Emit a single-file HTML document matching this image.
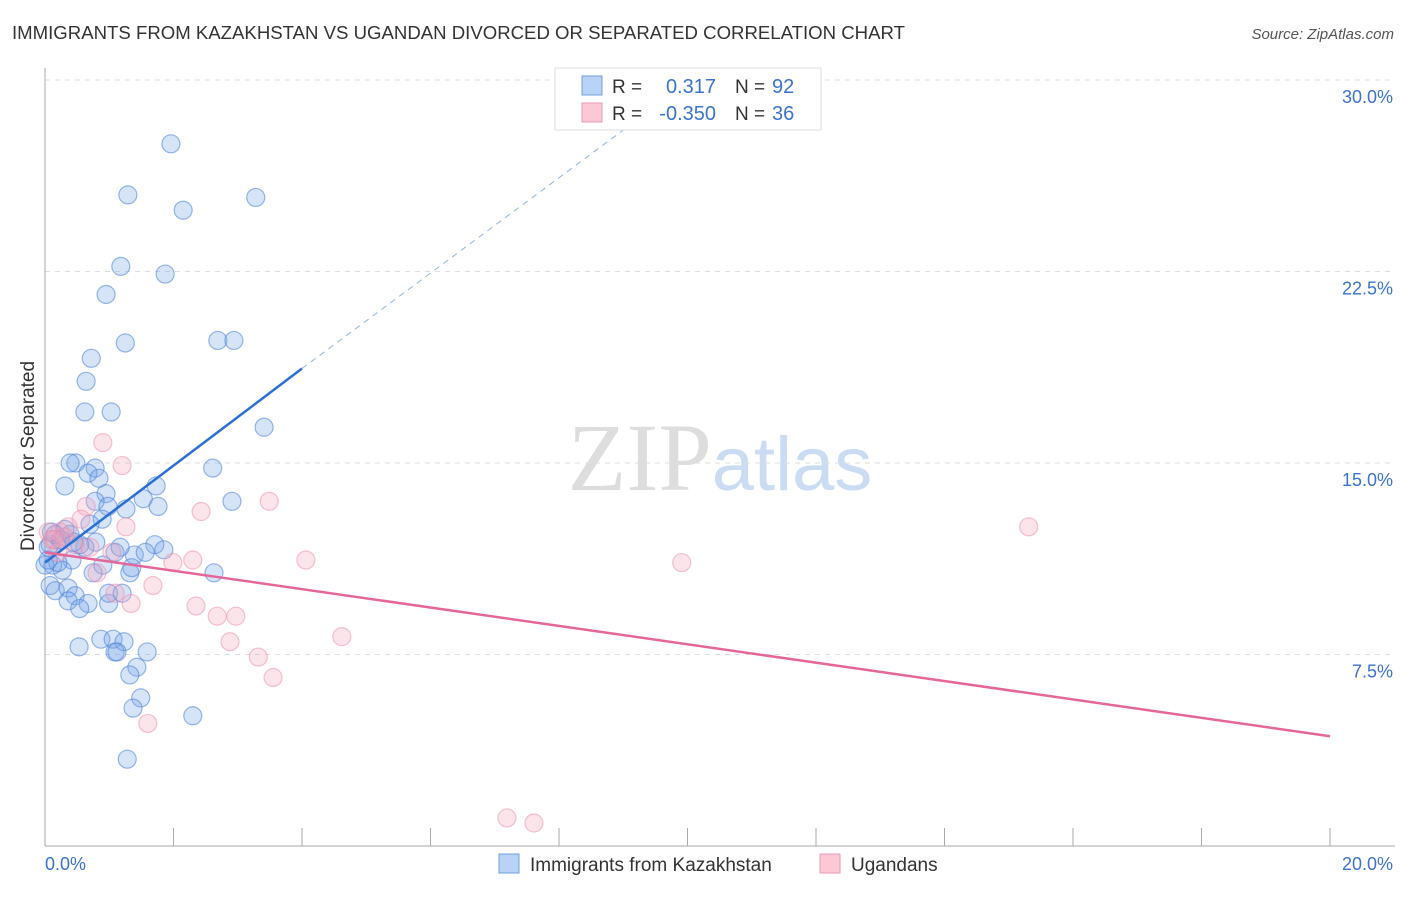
<!DOCTYPE html>
<html><head><meta charset="utf-8"><style>
body{margin:0;background:#fff;font-family:"Liberation Sans",sans-serif}
</style></head><body>
<svg id="chart" width="1406" height="892" xmlns="http://www.w3.org/2000/svg" font-family="Liberation Sans, sans-serif">
<text x="12" y="39" font-size="18.6" fill="#333">IMMIGRANTS FROM KAZAKHSTAN VS UGANDAN DIVORCED OR SEPARATED CORRELATION CHART</text>
<text x="1394" y="39" font-size="15" fill="#555" text-anchor="end" font-style="italic">Source: ZipAtlas.com</text>
<text x="720" y="490" font-size="96" text-anchor="middle" fill="#ddd" font-family="Liberation Serif, serif">ZIP<tspan fill="#c9dcf3" font-family="Liberation Sans, sans-serif" font-size="76">atlas</tspan></text>
<g id="grid"></g>
<g id="axes"></g>
<g id="points"></g>
<g id="trends"></g>
<text transform="translate(34,456) rotate(-90)" font-size="19" fill="#333" text-anchor="middle">Divorced or Separated</text>
<g>
<rect x="555" y="68" width="266" height="62" fill="#fff" stroke="#ddd"/>
<rect x="582" y="76" width="20" height="19" fill="#b8d3f5" stroke="#6f9fe0"/>
<rect x="582" y="103" width="20" height="19" fill="#fcc8d6" stroke="#ee9ab3"/>
<text x="612" y="93" font-size="19" fill="#333">R =</text>
<text x="716" y="93" font-size="20" fill="#3a73d0" text-anchor="end">0.317</text>
<text x="735" y="93" font-size="19" fill="#333">N =</text>
<text x="772" y="93" font-size="20" fill="#3a73d0">92</text>
<text x="612" y="120" font-size="19" fill="#333">R =</text>
<text x="716" y="120" font-size="20" fill="#3a73d0" text-anchor="end">-0.350</text>
<text x="735" y="120" font-size="19" fill="#333">N =</text>
<text x="772" y="120" font-size="20" fill="#3a73d0">36</text>
</g>
<g>
<rect x="499" y="854" width="20" height="19" fill="#b8d3f5" stroke="#6f9fe0"/>
<text x="530" y="871" font-size="19" fill="#333">Immigrants from Kazakhstan</text>
<rect x="820" y="854" width="20" height="19" fill="#fcc8d6" stroke="#ee9ab3"/>
<text x="851" y="871" font-size="19" fill="#333">Ugandans</text>
</g>
</svg>
<script>
const yTicks=[7.5,15.0,22.5,30.0];
const yTickLabels=["7.5%","15.0%","22.5%","30.0%"];
const xTickLabels=["0.0%","20.0%"];
const blueX=[1.96,1.29,2.15,3.28,1.18,1.87,0.95,1.25,2.69,2.94,0.72,0.64,0.62,1.03,3.41,0.48,0.39,0.78,0.67,0.84,2.61,0.31,0.95,0.78,0.98,1.26,1.73,1.53,1.76,2.91,0.89,0.79,0.62,1.71,1.85,0.42,0.27,0.12,0.08,0.16,0.36,0.47,0.67,0.75,0.90,1.39,1.56,1.32,1.35,2.63,0.36,0.54,0.99,0.99,1.20,0.53,0.87,1.06,1.23,1.09,1.12,1.59,1.43,1.32,1.49,1.37,2.30,1.28,0.23,0.08,0.05,0.20,1.09,1.17,0.39,0.54,0.70,0.31,0.16,0.0,0.05,0.25,0.10,0.45];
const blueY=[27.5,25.5,24.9,25.4,22.7,22.4,21.6,19.7,19.8,19.8,19.1,18.2,17.0,17.0,16.4,15.0,15.0,14.8,14.6,14.4,14.8,14.1,13.8,13.5,13.3,13.2,14.1,13.6,13.3,13.5,12.8,11.9,11.7,11.8,11.6,11.2,10.8,11.0,10.2,10.0,10.1,9.8,9.5,10.7,11.0,11.4,11.5,10.7,10.9,10.7,9.6,9.3,9.5,9.9,9.9,7.8,8.1,8.1,8.0,7.6,7.6,7.6,7.0,6.7,5.8,5.4,5.1,3.4,11.98,11.8,11.7,11.1,11.5,11.7,12.2,11.8,12.6,12.4,12.2,11.0,11.2,12.0,12.3,11.9];
const pinkX=[0.90,1.20,2.43,3.49,0.64,0.56,1.26,0.36,0.23,0.05,0.11,1.04,1.99,2.30,4.06,15.31,9.91,1.68,0.81,1.09,1.34,2.35,2.68,2.97,2.88,3.32,3.55,4.62,1.60,7.19,7.61,0.47,0.20,0.70,0.30,0.15];
const pinkY=[15.8,14.9,13.1,13.5,13.3,12.8,12.5,12.5,12.3,12.3,12.0,11.5,11.1,11.2,11.2,12.5,11.1,10.2,10.7,9.9,9.5,9.4,9.0,9.0,8.0,7.4,6.6,8.2,4.8,1.1,0.9,11.8,11.5,11.7,12.1,12.0];
const blueTrend=[[0,11.1],[4.0,18.7]];
const blueDash=[[4.0,18.7],[9.3,28.6]];
const pinkTrend=[[0,11.5],[20,4.3]];
const NS="http://www.w3.org/2000/svg";
const X=v=>45+v/20*1285, Y=v=>846-v/7.5*191.5;
function mk(tag,attrs,parent){const e=document.createElementNS(NS,tag);for(const k in attrs)e.setAttribute(k,attrs[k]);document.getElementById(parent).appendChild(e);return e;}
yTicks.forEach((t,i)=>{
 const g=mk('line',{x1:45,x2:1395,y1:Y(t),y2:Y(t),stroke:'#ddd','stroke-dasharray':'5,5'},'grid');
 
 
 const l=mk('text',{x:1393,y:Y(t)+23,'font-size':18,fill:'#3a73d0','text-anchor':'end'},'grid');l.textContent=yTickLabels[i];
 
 
});
const ax=mk('line',{x1:45,x2:45,y1:68,y2:846,stroke:'#aaa'},'axes');


const bx=mk('line',{x1:45,x2:1395,y1:846,y2:846,stroke:'#aaa'},'axes');


for(let i=0;i<=10;i++){const t=mk('line',{x1:X(i*2),x2:X(i*2),y1:828,y2:846,stroke:'#aaa'},'axes');
 
 }
[[0,45,'start'],[20,1393,'end']].forEach((d,i)=>{const l=mk('text',{x:d[1],y:870,'font-size':18,fill:'#3a73d0','text-anchor':d[2]},'axes');l.textContent=xTickLabels[i];
 
 });
blueX.forEach((v,i)=>{const c=mk('circle',{cx:X(v),cy:Y(blueY[i]),r:9,fill:'rgba(120,165,232,0.3)',stroke:'rgba(70,125,215,0.55)','stroke-width':1.2},'points');
 
 });
pinkX.forEach((v,i)=>{const c=mk('circle',{cx:X(v),cy:Y(pinkY[i]),r:9,fill:'rgba(245,165,190,0.3)',stroke:'rgba(235,135,170,0.5)','stroke-width':1.2},'points');
 
 });
function ln(p,st,w,dash,name){const l=mk('line',{x1:X(p[0][0]),y1:Y(p[0][1]),x2:X(p[1][0]),y2:Y(p[1][1]),stroke:st,'stroke-width':w},'trends');if(dash)l.setAttribute('stroke-dasharray',dash);
 
 }
ln(blueTrend,'#2a6fd6',2.5,null,'kazakhstan-trendline');
ln(blueDash,'#8fb3e8',1,'6,5','kazakhstan-trend-extension');
ln(pinkTrend,'#e5679a',2.5,null,'ugandan-trendline');
</script>
</body></html>
